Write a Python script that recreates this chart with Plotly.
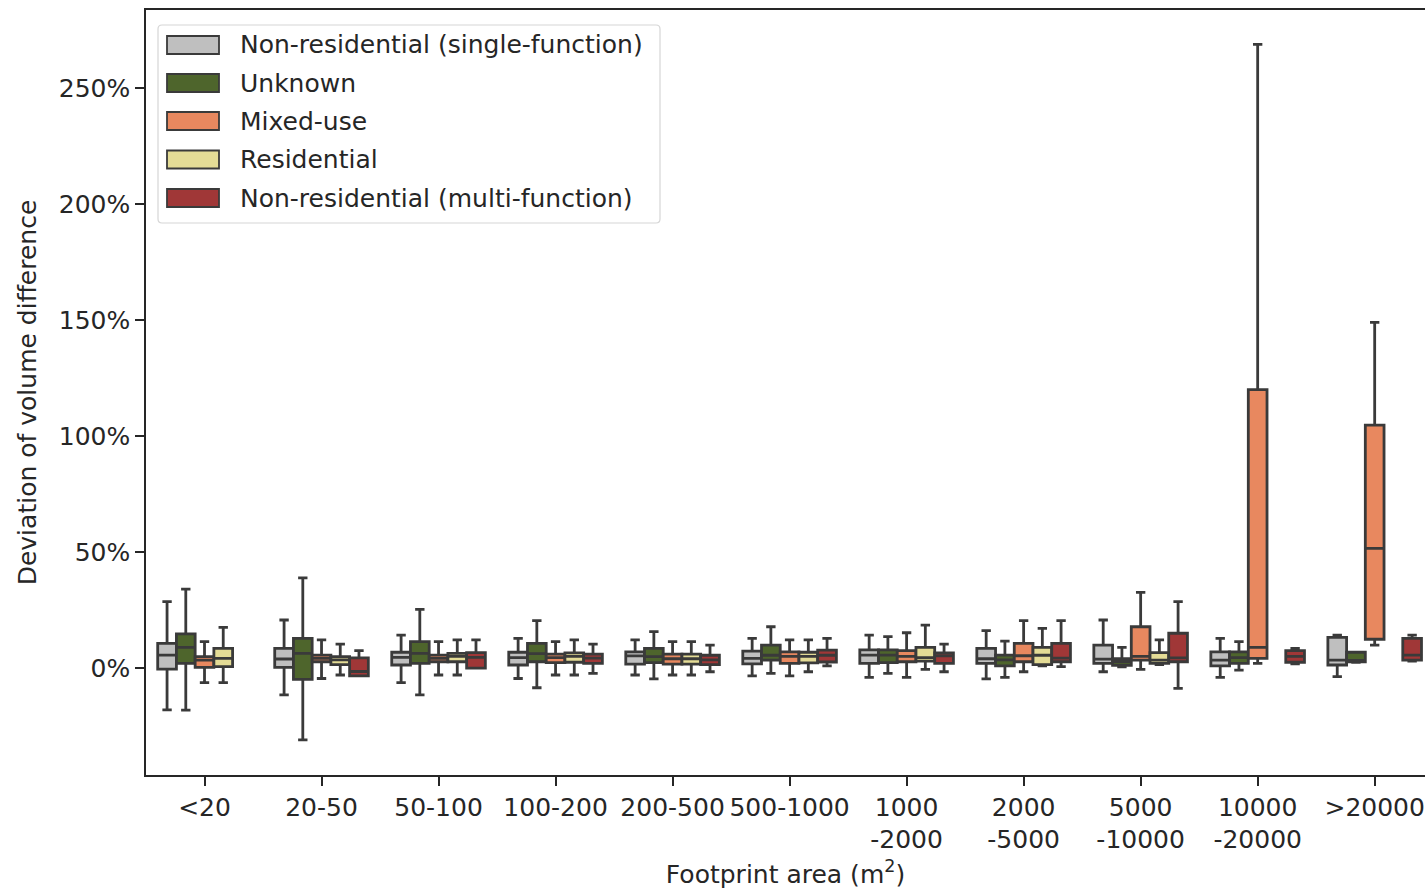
import plotly.graph_objects as go

categories = ["<20", "20-50", "50-100", "100-200", "200-500", "500-1000",
              "1000-2000", "2000-5000", "5000-10000", "10000-20000", ">20000"]
tick_labels = ["&lt;20", "20-50", "50-100", "100-200", "200-500", "500-1000",
               "1000<br>-2000", "2000<br>-5000", "5000<br>-10000", "10000<br>-20000", "&gt;20000"]

series_names = ["Non-residential (single-function)", "Unknown", "Mixed-use",
                "Residential", "Non-residential (multi-function)"]
series_colors = ["#bfbfbf", "#4e652c", "#e8885f", "#e4dc96", "#a03737"]

# Non-residential (single-function)
nrs_x = categories
nrs_lf = [-18.0, -11.6, -6.3, -4.5, -3.0, -3.4, -4.0, -4.7, -1.6, -4.0, -3.7]
nrs_q1 = [-0.5, 0.3, 1.3, 1.3, 1.7, 1.8, 2.0, 2.0, 2.0, 0.9, 1.3]
nrs_med = [5.6, 3.9, 4.6, 4.5, 5.2, 4.2, 5.6, 4.0, 3.8, 3.4, 3.4]
nrs_q3 = [10.6, 8.5, 6.8, 6.8, 7.0, 7.3, 7.8, 8.5, 9.9, 7.0, 13.2]
nrs_uf = [28.6, 20.7, 14.2, 12.8, 12.1, 12.8, 14.2, 16.1, 20.7, 12.8, 14.2]

# Unknown
unk_x = categories
unk_lf = [-18.1, -31.0, -11.6, -8.5, -4.7, -2.3, -2.3, -4.0, 0.5, -0.9, 2.5]
unk_q1 = [2.0, -4.9, 2.0, 2.7, 2.3, 3.4, 2.3, 0.9, 1.2, 2.0, 2.7]
unk_med = [8.9, 6.3, 6.3, 6.2, 4.9, 5.5, 5.6, 3.5, 2.8, 4.5, 3.3]
unk_q3 = [14.7, 12.8, 11.4, 10.6, 8.5, 9.9, 7.8, 5.6, 4.0, 7.0, 6.8]
unk_uf = [34.0, 38.9, 25.3, 20.4, 15.7, 17.8, 13.5, 11.6, 8.9, 11.4, 6.8]

# Mixed-use
mix_x = categories
mix_lf = [-6.3, -4.5, -3.0, -3.0, -3.0, -3.4, -4.0, -1.6, -0.6, 2.0, 9.9]
mix_q1 = [0.3, 2.7, 2.7, 2.3, 1.7, 2.0, 2.7, 2.7, 3.4, 4.2, 12.4]
mix_med = [3.4, 4.2, 4.2, 4.5, 4.0, 5.0, 5.0, 5.3, 5.0, 8.9, 51.6]
mix_q3 = [4.9, 5.6, 5.6, 6.0, 6.0, 7.0, 7.5, 10.6, 17.8, 120.0, 104.7]
mix_uf = [11.4, 12.1, 11.4, 11.4, 11.4, 12.1, 15.2, 20.4, 32.6, 268.8, 149.0]

# Residential (no data for the two largest classes)
res_x = categories[:9]
res_lf = [-6.3, -3.0, -3.0, -3.0, -3.0, -1.6, -0.6, 0.9, 1.5]
res_q1 = [0.6, 1.5, 2.7, 2.5, 1.7, 2.2, 3.0, 1.5, 2.0]
res_med = [4.2, 3.5, 5.0, 5.0, 4.0, 5.0, 4.5, 5.5, 3.4]
res_q3 = [8.5, 4.9, 6.3, 6.5, 6.0, 6.8, 8.9, 8.9, 6.6]
res_uf = [17.5, 10.3, 12.1, 12.1, 11.4, 12.1, 18.5, 17.1, 12.1]

# Non-residential (multi-function) (no data for <20)
nrm_x = categories[1:]
nrm_lf = [-3.4, 0.0, -2.3, -1.6, 0.9, -1.6, 0.6, -8.8, 1.8, 3.0]
nrm_q1 = [-3.4, 0.0, 2.0, 1.5, 2.6, 2.0, 2.7, 2.7, 2.5, 3.4]
nrm_med = [-1.5, 4.6, 4.3, 3.5, 5.5, 5.2, 4.3, 4.4, 5.0, 5.6]
nrm_q3 = [4.4, 6.6, 6.0, 5.5, 7.7, 6.5, 10.6, 15.0, 7.5, 12.8]
nrm_uf = [7.5, 12.1, 10.3, 9.9, 12.8, 10.3, 20.4, 28.6, 8.5, 14.2]

series = [
    (nrs_x, nrs_lf, nrs_q1, nrs_med, nrs_q3, nrs_uf),
    (unk_x, unk_lf, unk_q1, unk_med, unk_q3, unk_uf),
    (mix_x, mix_lf, mix_q1, mix_med, mix_q3, mix_uf),
    (res_x, res_lf, res_q1, res_med, res_q3, res_uf),
    (nrm_x, nrm_lf, nrm_q1, nrm_med, nrm_q3, nrm_uf),
]

LINE = "#3a3a3a"
TXT = "#262626"
FONT = "DejaVu Sans"
FS = 25

W, H = 1425, 889
ML, MR, MT, MB = 146, 0, 10, 114
PW, PH = W - ML - MR, H - MT - MB


def px(xp):
    return (xp - ML) / PW


def py(yp):
    return (H - MB - yp) / PH


fig = go.Figure()
for i, (name, color, s) in enumerate(zip(series_names, series_colors, series)):
    x, lf, q1, med, q3, uf = s
    fig.add_trace(go.Box(
        name=name, x=x, lowerfence=lf, q1=q1, median=med, q3=q3, upperfence=uf,
        boxpoints=False, fillcolor=color, whiskerwidth=0.5,
        line=dict(color=LINE, width=2.8),
        showlegend=False, hoverinfo="skip",
    ))

# legend (matplotlib-style frame with wide colour patches)
shapes = []
lx0, ly0, lx1, ly1, r = 158, 25, 660, 223, 4
path = (f"M {px(lx0 + r)},{py(ly0)} L {px(lx1 - r)},{py(ly0)} "
        f"Q {px(lx1)},{py(ly0)} {px(lx1)},{py(ly0 + r)} "
        f"L {px(lx1)},{py(ly1 - r)} Q {px(lx1)},{py(ly1)} {px(lx1 - r)},{py(ly1)} "
        f"L {px(lx0 + r)},{py(ly1)} Q {px(lx0)},{py(ly1)} {px(lx0)},{py(ly1 - r)} "
        f"L {px(lx0)},{py(ly0 + r)} Q {px(lx0)},{py(ly0)} {px(lx0 + r)},{py(ly0)} Z")
shapes.append(dict(type="path", xref="paper", yref="paper", path=path,
                   fillcolor="rgba(255,255,255,0.85)", line=dict(color="#d6d6d6", width=1.2)))
annotations = []
row_y = [45, 83, 121, 159.5, 198]
for name, color, ry in zip(series_names, series_colors, row_y):
    shapes.append(dict(type="rect", xref="paper", yref="paper",
                       x0=px(167), x1=px(219), y0=py(ry - 9), y1=py(ry + 9),
                       fillcolor=color, line=dict(color=LINE, width=1.8)))
    annotations.append(dict(xref="paper", yref="paper", x=px(238), y=py(ry),
                            xanchor="left", yanchor="middle", showarrow=False,
                            text=name, font=dict(family=FONT, size=FS, color=TXT)))

fig.update_layout(
    width=W, height=H,
    margin=dict(l=ML, r=MR, t=MT, b=MB),
    paper_bgcolor="white", plot_bgcolor="white",
    boxmode="group", boxgap=0.2, boxgroupgap=0.0,
    font=dict(family=FONT, size=FS, color=TXT),
    showlegend=False,
    shapes=shapes, annotations=annotations,
    xaxis=dict(
        type="category", categoryorder="array", categoryarray=categories,
        tickmode="array", tickvals=categories, ticktext=tick_labels,
        range=[-0.5, 10.43],
        showline=True, mirror=True, linecolor=TXT, linewidth=1.5,
        ticks="outside", ticklen=9, tickwidth=1.5, tickcolor=TXT,
        showgrid=False, zeroline=False,
        title=dict(text="Footprint area (m<sup>2</sup>)", standoff=12,
                   font=dict(family=FONT, size=FS, color=TXT)),
    ),
    yaxis=dict(
        range=[-46.1, 283.6],
        tickmode="array", tickvals=[0, 50, 100, 150, 200, 250],
        ticktext=["0%", "50%", "100%", "150%", "200%", "250%"],
        showline=True, mirror=False, linecolor=TXT, linewidth=1.5,
        ticks="outside", ticklen=9, tickwidth=1.5, tickcolor=TXT,
        showgrid=False, zeroline=False,
        title=dict(text="Deviation of volume difference", standoff=15,
                   font=dict(family=FONT, size=FS, color=TXT)),
    ),
)

fig.write_html("out.html")
